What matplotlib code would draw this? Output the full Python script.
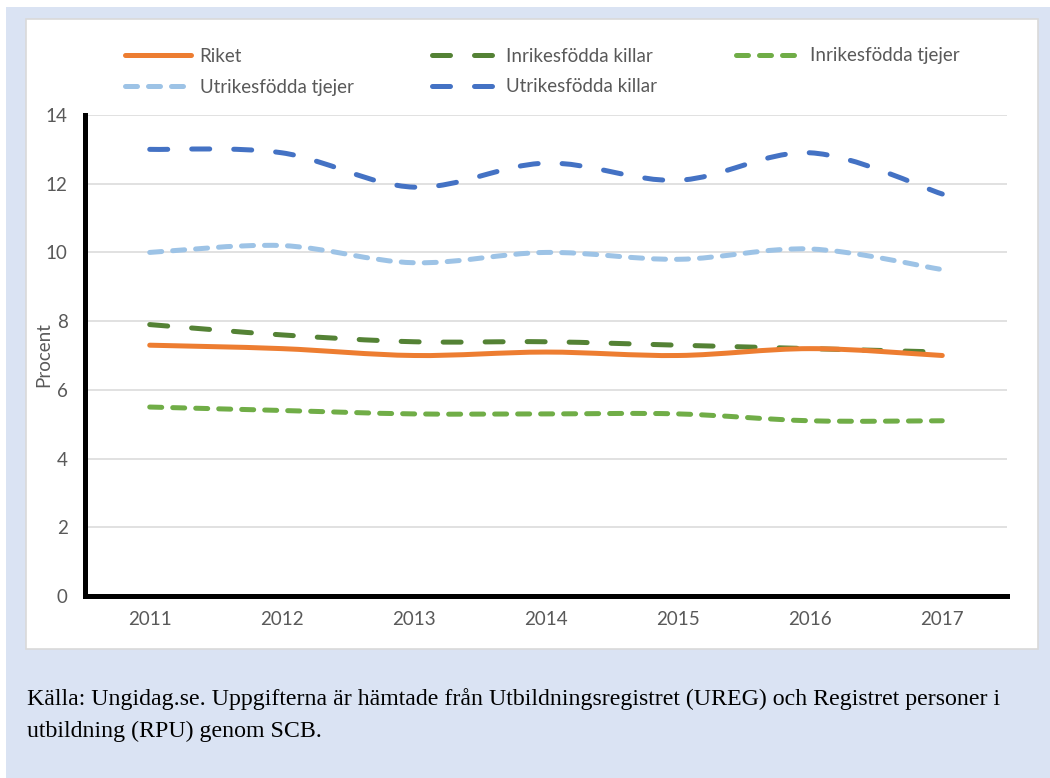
import matplotlib
matplotlib.use("Agg")
import matplotlib.pyplot as plt
from matplotlib.path import Path
from matplotlib.patches import PathPatch, Rectangle
from matplotlib.lines import Line2D
import numpy as np

# ---------------- data ----------------
years = ["2011", "2012", "2013", "2014", "2015", "2016", "2017"]
riket = [7.3, 7.2, 7.0, 7.1, 7.0, 7.2, 7.0]
inrikes_killar = [7.9, 7.6, 7.4, 7.4, 7.3, 7.2, 7.1]
inrikes_tjejer = [5.5, 5.4, 5.3, 5.3, 5.3, 5.1, 5.1]
utrikes_tjejer = [10.0, 10.2, 9.7, 10.0, 9.8, 10.1, 9.5]
utrikes_killar = [13.0, 12.9, 11.9, 12.6, 12.1, 12.9, 11.7]
yticks = [0, 2, 4, 6, 8, 10, 12, 14]
ylabel = "Procent"
caption1 = "Källa: Ungidag.se. Uppgifterna är hämtade från Utbildningsregistret (UREG) och Registret personer i"
caption2 = "utbildning (RPU) genom SCB."

W, H = 1050, 778
DPI = 100
FONT = "Lato"
TXT = "#595959"
FS = 13.5
LW = 3.6

fig = plt.figure(figsize=(W / DPI, H / DPI), dpi=DPI, facecolor="white")

def fx(px):
    return px / W

def fy(py):
    return 1 - py / H

# backgrounds
fig.add_artist(Rectangle((fx(6), 0), 1 - fx(6), fy(7), transform=fig.transFigure,
                         facecolor="#dae3f3", edgecolor="none", zorder=-3))
fig.add_artist(Rectangle((fx(26), fy(649)), fx(1038) - fx(26), fy(19) - fy(649),
                         transform=fig.transFigure, facecolor="white",
                         edgecolor="#d9d9d9", linewidth=1.2, zorder=-2))

ax_l, ax_r, ax_t, ax_b = 85, 1007, 115, 596
ax = fig.add_axes([fx(ax_l), fy(ax_b), fx(ax_r) - fx(ax_l), fy(ax_t) - fy(ax_b)])
ax.set_facecolor("white")

x = np.arange(len(years))


def smooth_path(xs, ys):
    pts = np.column_stack([xs, ys]).astype(float)
    n = len(pts)
    verts = [pts[0]]
    codes = [Path.MOVETO]
    for i in range(n - 1):
        p0 = pts[i - 1] if i > 0 else pts[i]
        p1 = pts[i]
        p2 = pts[i + 1]
        p3 = pts[i + 2] if i + 2 < n else pts[i + 1]
        c1 = p1 + (p2 - p0) / 6.0
        c2 = p2 - (p3 - p1) / 6.0
        verts += [c1, c2, p2]
        codes += [Path.CURVE4] * 3
    return Path(np.array(verts), codes)


dash_long = (0, (3.6, 4.8))
dash_sys = (0, (2.4, 2.2))

series = [
    ("Riket", riket, "#ed7d31", "-", 5),
    ("Inrikesfödda killar", inrikes_killar, "#548235", dash_long, 4),
    ("Inrikesfödda tjejer", inrikes_tjejer, "#70ad47", dash_sys, 3),
    ("Utrikesfödda tjejer", utrikes_tjejer, "#9dc3e6", dash_sys, 3),
    ("Utrikesfödda killar", utrikes_killar, "#4472c4", dash_long, 4),
]

handles = {}
for name, vals, col, ls, z in series:
    patch = PathPatch(smooth_path(x, vals), facecolor="none", edgecolor=col,
                      linewidth=LW, linestyle=ls, capstyle="round",
                      joinstyle="round", zorder=z)
    ax.add_patch(patch)
    h = Line2D([0, 1], [0, 0], color=col, linewidth=LW, linestyle=ls,
               dash_capstyle="round", solid_capstyle="round")
    handles[name] = h

ax.set_xlim(-0.49, 6.49)
ax.set_ylim(0, 14)
ax.set_xticks(x)
ax.set_xticklabels(years)
ax.set_yticks(yticks)
ax.set_yticklabels([str(v) for v in yticks])
ax.tick_params(axis="both", length=0, labelsize=FS, labelcolor=TXT)
ax.tick_params(axis="y", pad=12.6)
ax.tick_params(axis="x", pad=11)
for lab in ax.get_xticklabels() + ax.get_yticklabels():
    lab.set_fontfamily(FONT)

ax.grid(axis="y", color="#d9d9d9", linewidth=1.1, zorder=0)
ax.set_axisbelow(True)
for s in ["top", "right"]:
    ax.spines[s].set_visible(False)
for s in ["left", "bottom"]:
    ax.spines[s].set_color("black")
    ax.spines[s].set_linewidth(LW)
    ax.spines[s].set_zorder(6)

fig.text(fx(44), fy(355), ylabel, rotation=90, ha="center", va="center",
         fontsize=FS, color=TXT, family=FONT)

# legend: one entry per position (Excel row-major layout)
leg_pos = [
    ("Riket", 124.5, 56),
    ("Inrikesfödda killar", 431.5, 56),
    ("Inrikesfödda tjejer", 735.5, 56),
    ("Utrikesfödda tjejer", 124.5, 87),
    ("Utrikesfödda killar", 431.5, 87),
]
for name, px, py in leg_pos:
    lg = fig.legend([handles[name]], [name], loc="center left",
                    bbox_to_anchor=(fx(px), fy(py)), frameon=False,
                    borderpad=0, borderaxespad=0, handlelength=3.55,
                    handletextpad=0.45, prop={"family": FONT, "size": FS})
    for t in lg.get_texts():
        t.set_color(TXT)

fig.text(fx(27), fy(705), caption1, ha="left", va="baseline", fontsize=17.2,
         family="Liberation Serif", color="black")
fig.text(fx(27), fy(737), caption2, ha="left", va="baseline", fontsize=17.2,
         family="Liberation Serif", color="black")

fig.savefig("out.png", dpi=DPI, facecolor=fig.get_facecolor())
